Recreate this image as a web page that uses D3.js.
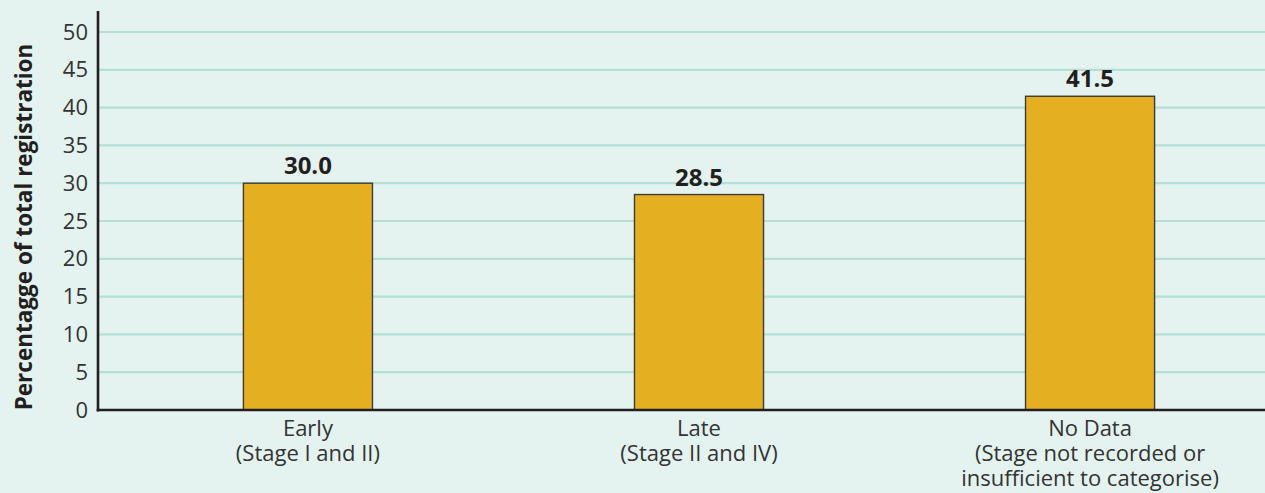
<!DOCTYPE html>
<html>
<head>
<meta charset="utf-8">
<script src="https://cdn.jsdelivr.net/npm/d3@7"></script>
<style>
  html, body { margin: 0; padding: 0; background: #e4f3f0; }
  svg { display: block; }
  text { font-family: "Open Sans", "Noto Sans", sans-serif; }
</style>
</head>
<body>
<svg id="chart" width="1265" height="493"></svg>
<script>
// Share of total registrations by stage at diagnosis
const categories = ["Early", "Late", "No Data"];
const categoryLines = [
  ["Early", "(Stage I and II)"],
  ["Late", "(Stage II and IV)"],
  ["No Data", "(Stage not recorded or", "insufficient to categorise)"]
];
const values = [30.0, 28.5, 41.5];
const yTicks = [0, 5, 10, 15, 20, 25, 30, 35, 40, 45, 50];
const yTitle = "Percentagge of total registration";

const W = 1265, H = 493;
const svg = d3.select("#chart");

svg.append("rect").attr("width", W).attr("height", H).attr("fill", "#e4f3f0");

const x = d3.scaleBand()
  .domain(categories)
  .range([99.5, 1298.5])
  .paddingInner(0.67)
  .paddingOuter(0.368);

const y = d3.scaleLinear().domain([0, 50]).range([410, 32]);

// horizontal gridlines
svg.append("g")
  .selectAll("line")
  .data(yTicks.filter(t => t > 0))
  .join("line")
  .attr("x1", 99).attr("x2", W)
  .attr("y1", d => y(d)).attr("y2", d => y(d))
  .attr("stroke", "#b3dfd6")
  .attr("stroke-width", 2.2);

// y axis tick labels
const yAxis = d3.axisLeft(y).tickValues(yTicks).tickSize(0).tickPadding(10);
const gy = svg.append("g").attr("transform", "translate(98,0)").call(yAxis);
gy.select(".domain").remove();
gy.selectAll("text")
  .attr("font-size", 22)
  .attr("fill", "#333")
  .style("font-family", "'Open Sans', sans-serif");

// bars
svg.append("g")
  .selectAll("rect")
  .data(values)
  .join("rect")
  .attr("x", (d, i) => x(categories[i]))
  .attr("width", x.bandwidth())
  .attr("y", d => y(d))
  .attr("height", d => y(0) - y(d))
  .attr("fill", "#e4b022")
  .attr("stroke", "#3b3b3b")
  .attr("stroke-width", 1.4);

// value labels
svg.append("g")
  .selectAll("text")
  .data(values)
  .join("text")
  .attr("x", (d, i) => x(categories[i]) + x.bandwidth() / 2)
  .attr("y", d => y(d) - 9)
  .attr("text-anchor", "middle")
  .attr("font-size", 24)
  .attr("font-weight", "bold")
  .attr("fill", "#231f20")
  .text(d => d.toFixed(1));

// axis lines
svg.append("line")
  .attr("x1", 98).attr("x2", 98).attr("y1", 11).attr("y2", 411.5)
  .attr("stroke", "#231f20").attr("stroke-width", 2.6);
svg.append("line")
  .attr("x1", 96.7).attr("x2", W).attr("y1", 410).attr("y2", 410)
  .attr("stroke", "#231f20").attr("stroke-width", 2.6);

// category labels
const xl = svg.append("g")
  .selectAll("text")
  .data(categoryLines)
  .join("text")
  .attr("text-anchor", "middle")
  .attr("font-size", 22)
  .attr("fill", "#333");
xl.each(function(lines, i) {
  const cx = x(categories[i]) + x.bandwidth() / 2;
  d3.select(this).selectAll("tspan")
    .data(lines)
    .join("tspan")
    .attr("x", cx)
    .attr("y", (l, j) => 436 + j * 25)
    .text(l => l);
});

// y axis title
svg.append("text")
  .attr("transform", "translate(32,227) rotate(-90)")
  .attr("text-anchor", "middle")
  .attr("font-size", 22.5)
  .attr("font-weight", "bold")
  .attr("fill", "#231f20")
  .text(yTitle);
</script>
</body>
</html>
